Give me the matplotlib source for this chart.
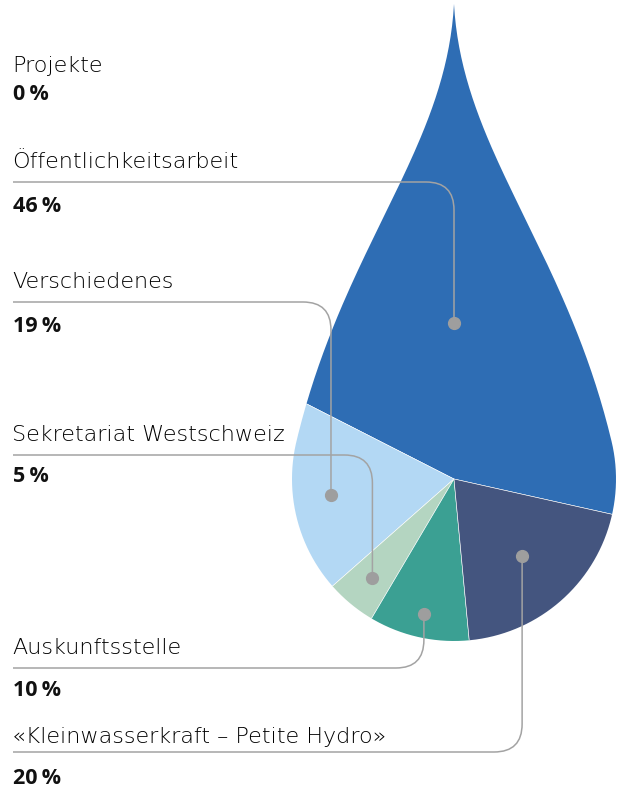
import numpy as np
import matplotlib.pyplot as plt
from matplotlib.path import Path
from matplotlib.patches import PathPatch

# data
categories = ["Projekte", "Öffentlichkeitsarbeit", "Verschiedenes",
              "Sekretariat Westschweiz", "Auskunftsstelle",
              "«Kleinwasserkraft – Petite Hydro»"]
shares = [0, 46, 19, 5, 10, 20]
colors = ["#2E6DB4", "#2E6DB4", "#B3D8F4", "#B4D5C1", "#3BA093", "#44557F"]

# layout (pixels, y down)
name_y = [66, 162, 282, 435, 648, 737]
line_y = [None, 182, 302, 455, 668, 752]
pct_y = [94, 206, 326, 476, 691, 778]
dot_r = [None, 156, 124, 128, 138, 103]

W, H = 617, 791
fig = plt.figure(figsize=(W / 100, H / 100), dpi=100)
ax = fig.add_axes([0, 0, 1, 1])

cx, cy, R = 454, 479, 162
wedges, _ = ax.pie(shares, colors=colors, startangle=12.6, counterclock=False,
                   center=(cx, cy), radius=520,
                   wedgeprops=dict(linewidth=0.4, edgecolor="white"))
ax.set_xlim(0, W)
ax.set_ylim(H, 0)
ax.axis("off")

# drop outline: sharp tip + circle
tip = np.array([454.0, 4.0])
th = np.radians(13.5)
pr = np.array([cx + R * np.cos(th), cy - R * np.sin(th)])
down = np.array([np.sin(th), np.cos(th)])
c1 = np.array([462.0, 150.0])
c2 = pr - 200 * down
t = np.linspace(0, 1, 80)[:, None]
right = (1 - t) ** 3 * tip + 3 * (1 - t) ** 2 * t * c1 + 3 * (1 - t) * t ** 2 * c2 + t ** 3 * pr
phi = np.linspace(th, -np.pi - th, 200)
arc = np.column_stack([cx + R * np.cos(phi), cy - R * np.sin(phi)])
left = right[::-1].copy()
left[:, 0] = 2 * cx - left[:, 0]
outline = np.vstack([right, arc, left])
drop = PathPatch(Path(outline), facecolor="none", edgecolor="none")
ax.add_patch(drop)
for w in wedges:
    w.set_clip_on(True)
    w.set_clip_path(drop)

gray = "#A3A3A3"


def connector(x0, yl, xd, yd, r=28):
    s = 1 if yd > yl else -1
    verts = [(x0, yl), (xd - r, yl), (xd, yl), (xd, yl + s * r), (xd, yd)]
    codes = [Path.MOVETO, Path.LINETO, Path.CURVE3, Path.CURVE3, Path.LINETO]
    ax.add_patch(PathPatch(Path(verts, codes), facecolor="none",
                           edgecolor=gray, linewidth=1.1))
    ax.plot(xd, yd, "o", ms=8.5, color="#9E9E9E", zorder=5)


for i, name in enumerate(categories):
    ax.text(12, name_y[i], name, fontsize=16, fontweight="light",
            family="DejaVu Sans", va="center", color="#000000")
    ax.text(13, pct_y[i], f"{shares[i]}\u2009%", fontsize=15.5, fontweight="bold",
            family="Open Sans", va="center", color="#111111")
    if line_y[i] is None:
        continue
    w = wedges[i]
    if i == 1:
        ang = np.radians(-90)
    else:
        ang = np.radians((w.theta1 + w.theta2) / 2)
    xd = cx + dot_r[i] * np.cos(ang)
    yd = cy + dot_r[i] * np.sin(ang)
    connector(13, line_y[i], xd, yd)

fig.savefig("out.png", dpi=100)
